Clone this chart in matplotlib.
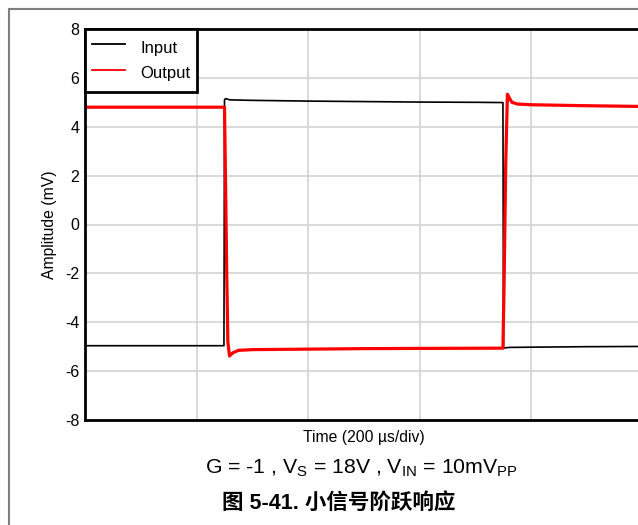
import matplotlib
matplotlib.use("Agg")
import matplotlib.pyplot as plt
from matplotlib.lines import Line2D

plt.rcParams['font.family'] = ['Liberation Sans', 'Noto Sans CJK SC', 'DejaVu Sans']
plt.rcParams['mathtext.fontset'] = 'custom'
plt.rcParams['mathtext.rm'] = 'Liberation Sans'
plt.rcParams['axes.unicode_minus'] = False

# Data (time in µs, amplitude in mV)
t_in = [0, 249, 250, 252, 260, 300, 400, 500, 600, 700, 749, 750, 752, 760, 800, 900, 1000]
v_in = [-4.96, -4.96, 5.1, 5.15, 5.1, 5.08, 5.05, 5.03, 5.01, 5.0, 4.99, -5.06, -5.05, -5.03, -5.02, -5.0, -4.99]

t_out = [0, 250, 252, 254, 256, 259, 265, 275, 300, 400, 500, 600, 749,
         751, 754, 757, 760, 765, 775, 800, 900, 1000]
v_out = [4.8, 4.8, 1.5, -2.0, -4.8, -5.38, -5.25, -5.15, -5.12, -5.1, -5.08, -5.07, -5.06,
         -2.5, 2.5, 5.33, 5.2, 5.0, 4.93, 4.9, 4.86, 4.83]

y_ticks = [-8, -6, -4, -2, 0, 2, 4, 6, 8]
x_grid = [0, 200, 400, 600, 800, 1000]

fig = plt.figure(figsize=(6.38, 5.25), dpi=100)
ax = fig.add_axes([85/638, 1-420/525, (643-85)/638, (420-29)/525])

ax.plot(t_in, v_in, color='black', lw=1.2, label='Input')
ax.plot(t_out, v_out, color='#ff0000', lw=2.3, label='Output')

ax.set_xlim(0, 1000)
ax.set_ylim(-8, 8)
ax.set_yticks(y_ticks)
ax.set_xticks(x_grid)
ax.set_xticklabels([])
ax.tick_params(axis='both', length=0, labelsize=11.5, pad=4)
ax.grid(True, color='#d3d3d3', lw=1.2)
ax.set_axisbelow(True)
for s in ['left', 'bottom', 'top']:
    ax.spines[s].set_linewidth(2)
    ax.spines[s].set_color('black')
ax.spines['right'].set_visible(False)

ax.set_xlabel('Time (200 µs/div)', fontsize=11.3, labelpad=3)
ax.set_ylabel('Amplitude (mV)', fontsize=11.3, labelpad=6)

leg = ax.legend(loc='upper left', borderaxespad=0, fontsize=12, fancybox=False,
                framealpha=1, edgecolor='black', handlelength=1.95, handletextpad=0.95,
                handleheight=1.75, borderpad=0.42, labelspacing=0.15)
leg.get_frame().set_linewidth(2)
for h in leg.get_lines():
    h.set_linewidth(1.3)

fig.text(361/638, 1-468/525, r'G = -1 , V$_\mathregular{S}$ = 18V , V$_\mathregular{IN}$ = 10mV$_\mathregular{PP}$',
         ha='center', va='center', fontsize=15.3)
fig.text(339/638, 1-503/525, '图 5-41. 小信号阶跃响应', ha='center', va='center',
         fontsize=15.5, fontweight='bold', family=['Liberation Sans', 'Noto Sans CJK SC', 'DejaVu Sans'])

fig.add_artist(Line2D([9/638, 1], [1-9/525, 1-9/525], transform=fig.transFigure, color='#7f7f7f', lw=1.5))
fig.add_artist(Line2D([9/638, 9/638], [0, 1-9/525], transform=fig.transFigure, color='#7f7f7f', lw=1.5))

fig.savefig('out.png', dpi=100)
